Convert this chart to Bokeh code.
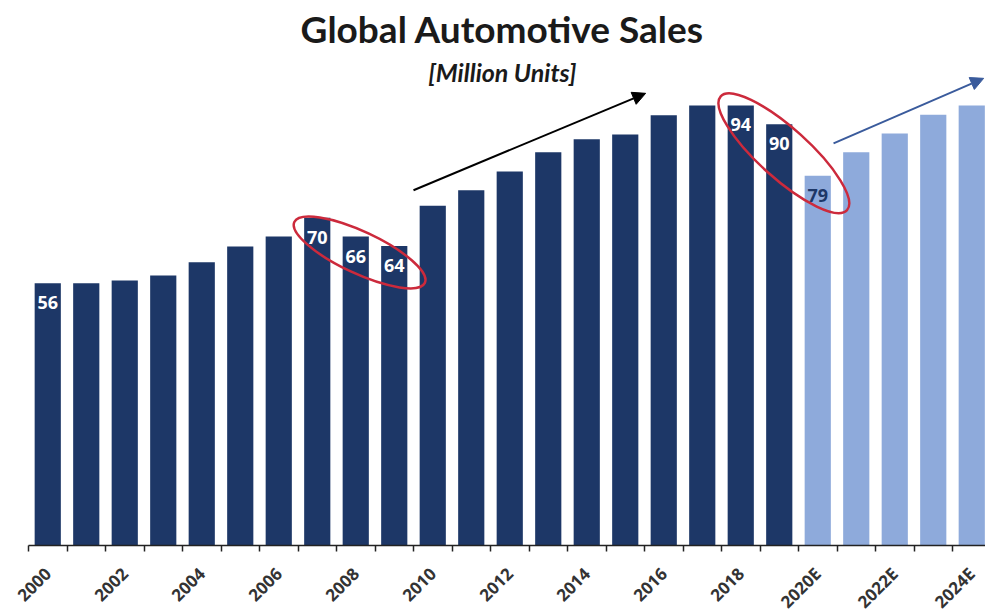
import math
from bokeh.plotting import figure
from bokeh.models import (ColumnDataSource, Range1d, LinearAxis, FixedTicker,
                          Arrow, NormalHead)
from bokeh.core.properties import value
from bokeh.embed import file_html
from bokeh.resources import INLINE

# ---------------- data ----------------
years = ["2000", "2001", "2002", "2003", "2004", "2005", "2006", "2007", "2008",
         "2009", "2010", "2011", "2012", "2013", "2014", "2015", "2016", "2017",
         "2018", "2019", "2020E", "2021E", "2022E", "2023E", "2024E"]
sales = [56, 56, 56.6, 57.7, 60.5, 63.9, 66, 70, 66, 64, 72.6, 75.9, 79.9, 84,
         86.8, 87.8, 91.9, 94, 94, 90, 79, 84, 88, 92, 94]
label_years = ["2000", "2007", "2008", "2009", "2018", "2019", "2020E"]
label_texts = ["56", "70", "66", "64", "94", "90", "79"]
tick_years = years[::2]

title = "Global Automotive Sales"
subtitle = "[Million Units]"

# ---------------- styles / layout ----------------
DARK = "#1d3767"
LIGHT = "#8eaadb"
RED = "#cc2a3c"
W, H = 985, 616
BASE_Y = 545          # pixel row of the value axis zero line
PX_PER_UNIT = 4.681
PITCH = 38.5          # pixels per category
LEFT = 28             # pixel column of the first category boundary

idx = list(range(len(years)))
colors = [LIGHT if y.endswith("E") else DARK for y in years]

x_start = -0.5 - LEFT / PITCH
x_end = x_start + W / PITCH
p = figure(width=W, height=H, output_backend="svg", toolbar_location=None,
           x_range=Range1d(x_start, x_end),
           y_range=Range1d(-(H - BASE_Y) / PX_PER_UNIT, BASE_Y / PX_PER_UNIT),
           x_axis_type=None, y_axis_type=None,
           min_border_left=0, min_border_right=0, min_border_top=0,
           min_border_bottom=0)
p.outline_line_color = None
p.grid.visible = False
p.background_fill_color = "white"
p.border_fill_color = "white"

src = ColumnDataSource(dict(x=idx, top=sales, color=colors))
p.vbar(x="x", top="top", width=0.68, fill_color="color", line_color=None, source=src)

# x axis: labels every 2 years, small ticks between bars
ticks = [years.index(t) for t in tick_years]
xaxis = LinearAxis(
    ticker=FixedTicker(ticks=ticks, minor_ticks=[i - 0.5 for i in range(len(years) + 1)]),
    major_label_overrides={i: years[i] for i in ticks},
    fixed_location=0,
    bounds=(-0.5, x_end),
)
xaxis.major_tick_in = 0
xaxis.major_tick_out = 0
xaxis.minor_tick_in = 0
xaxis.minor_tick_out = 6
xaxis.minor_tick_line_color = "#222222"
xaxis.minor_tick_line_width = 1.5
xaxis.axis_line_color = "#222222"
xaxis.axis_line_width = 1.5
xaxis.major_label_orientation = math.pi / 4
xaxis.major_label_standoff = 19
xaxis.major_label_text_font = "Open Sans"
xaxis.major_label_text_font_style = "bold"
xaxis.major_label_text_font_size = "17px"
xaxis.major_label_text_color = "#333333"
p.add_layout(xaxis, "below")

# data labels inside the bars
lx = [years.index(y) for y in label_years]
ly = [sales[i] for i in lx]
lc = [DARK if years[i].endswith("E") else "white" for i in lx]
p.text(x=lx, y=ly, text=label_texts, text_color=lc, text_font=value("Open Sans"),
       text_font_style="bold", text_font_size="18px", text_align="center",
       text_baseline="top", y_offset=13)

# titles
p.text(x=[11.81], y=[110.34], text=[title], text_font=value("Lato"),
       text_font_style="bold", text_font_size="37px", text_color="#1a1a1a",
       text_align="center", text_baseline="middle")
p.text(x=[11.81], y=[101.05], text=[subtitle], text_font=value("Lato"),
       text_font_style="bold italic", text_font_size="25px", text_color="#1a1a1a",
       text_align="center", text_baseline="middle")

# highlight ellipses
p.ellipse(x=[8.10, 19.12], y=[62.6, 83.8], width=[144, 170], height=[42, 50],
          width_units="screen", height_units="screen",
          angle=[-25, -42], angle_units="deg",
          fill_color=None, line_color=RED, line_width=2.5)

# trend arrows
p.add_layout(Arrow(end=NormalHead(size=13, fill_color="black", line_color="black"),
                   x_start=9.50, y_start=75.9, x_end=15.53, y_end=96.6,
                   line_color="black", line_width=2))
p.add_layout(Arrow(end=NormalHead(size=13, fill_color="#3a5b9c", line_color="#3a5b9c"),
                   x_start=20.41, y_start=85.9, x_end=24.31, y_end=99.8,
                   line_color="#3a5b9c", line_width=2))

open("out.html", "w").write(file_html(p, INLINE))
